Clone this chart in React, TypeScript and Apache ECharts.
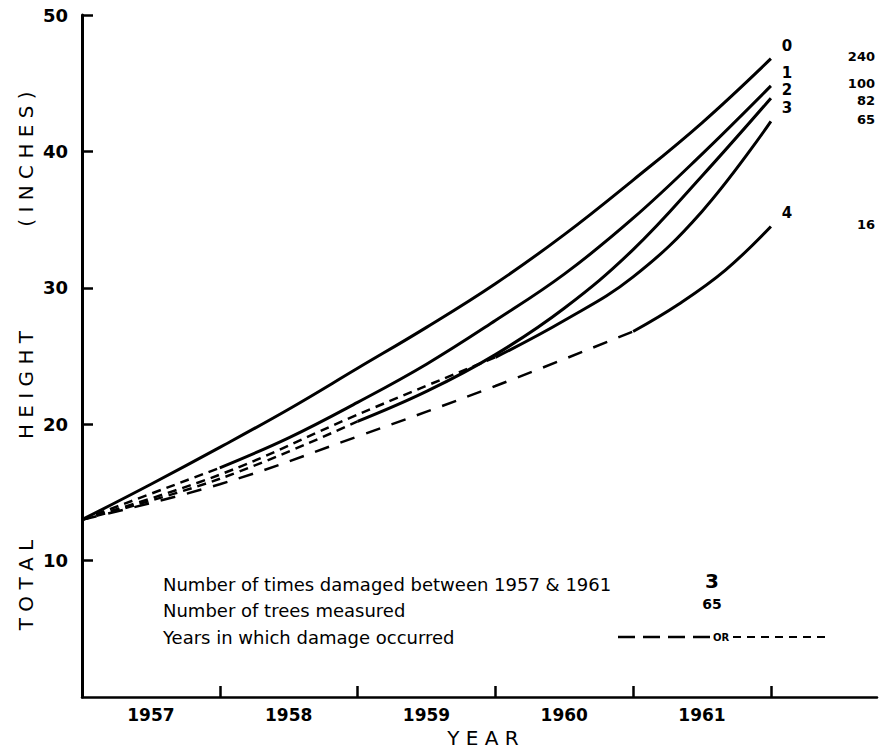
import React, { useEffect, useRef } from "react";
import * as echarts from "echarts";

// ---- axes ----
const yearTicks = [1958, 1959, 1960, 1961, 1962];
const yearLabelPositions = [1957.5, 1958.5, 1959.5, 1960.5, 1961.5];
const yearLabels = ["1957", "1958", "1959", "1960", "1961"];
const heightTicks = [10, 20, 30, 40, 50];

// ---- curve annotations ----
const damageCounts = [0, 1, 2, 3, 4];
const treeCounts = [240, 100, 82, 65, 16];

// ---- curve 0 (never damaged) ----
const solidYears0 = [1957, 1957.5, 1958, 1958.5, 1959, 1959.5, 1960, 1960.5, 1961, 1961.5, 1962];
const solidHeights0 = [13.0, 15.6, 18.3, 21.1, 24.1, 27.1, 30.3, 33.9, 37.9, 42.1, 46.8];

// ---- curve 1 ----
const dashYears1 = [1957, 1958];
const dashHeights1 = [13.0, 16.8];
const solidYears1 = [1958, 1958.5, 1959, 1959.5, 1960, 1960.5, 1961, 1961.5, 1962];
const solidHeights1 = [16.8, 19.0, 21.6, 24.4, 27.6, 31.0, 35.1, 39.8, 44.8];

// ---- curve 2 ----
const dashYears2 = [1957, 1958, 1959];
const dashHeights2 = [13.0, 16.0, 20.2];
const solidYears2 = [1959, 1959.5, 1960, 1960.5, 1961, 1961.5, 1962];
const solidHeights2 = [20.2, 22.4, 25.1, 28.5, 32.8, 38.2, 43.9];

// ---- curve 3 ----
const dashYears3 = [1957, 1958, 1959, 1960];
const dashHeights3 = [13.0, 16.3, 20.7, 24.9];
const solidYears3 = [1960, 1960.5, 1961, 1961.5, 1962];
const solidHeights3 = [24.9, 27.6, 30.8, 35.6, 42.2];

// ---- curve 4 ----
const dashYears4 = [1957, 1958, 1959, 1960, 1961];
const dashHeights4 = [13.0, 15.6, 19.1, 22.8, 26.8];
const solidYears4 = [1961, 1961.33, 1961.67, 1962];
const solidHeights4 = [26.8, 28.8, 31.3, 34.5];

const FONT = "DejaVu Sans";

const zip = (xs: number[], ys: number[]) => xs.map((x, i) => [x, ys[i]]);

const solidCurves = [
  zip(solidYears0, solidHeights0),
  zip(solidYears1, solidHeights1),
  zip(solidYears2, solidHeights2),
  zip(solidYears3, solidHeights3),
  zip(solidYears4, solidHeights4),
];
const dashCurves = [
  null,
  zip(dashYears1, dashHeights1),
  zip(dashYears2, dashHeights2),
  zip(dashYears3, dashHeights3),
  zip(dashYears4, dashHeights4),
];

export default function App() {
  const ref = useRef<HTMLDivElement>(null);

  useEffect(() => {
    if (!ref.current) return;
    const chart = echarts.init(ref.current, undefined, { renderer: "svg" });

    const series: any[] = [];
    solidCurves.forEach((data, i) => {
      series.push({
        type: "line",
        name: "damaged " + damageCounts[i] + " times",
        data,
        smooth: 0.4,
        showSymbol: false,
        symbol: "none",
        lineStyle: { color: "#000", width: 3, type: "solid" },
        z: 3,
      });
    });
    dashCurves.forEach((data, i) => {
      if (!data) return;
      series.push({
        type: "line",
        name: "damage years " + damageCounts[i],
        data,
        smooth: 0.4,
        showSymbol: false,
        symbol: "none",
        lineStyle: {
          color: "#000",
          width: 2.5,
          type: i === 4 ? [15, 12] : [9, 6],
        },
        z: 2,
      });
    });

    chart.setOption({
      animation: false,
      backgroundColor: "#fff",
      grid: { left: 82, right: 12, top: 15, bottom: 52, containLabel: false },
      xAxis: {
        type: "value",
        min: 1957,
        max: 1962.77,
        axisLine: { show: true, onZero: false, lineStyle: { color: "#000", width: 2.5 } },
        axisTick: {
          show: true,
          inside: true,
          length: 11,
          customValues: yearTicks,
          lineStyle: { color: "#000", width: 2.5 },
        },
        axisLabel: {
          show: true,
          customValues: yearLabelPositions,
          formatter: (v: number) => {
            const i = yearLabelPositions.findIndex((p) => Math.abs(p - v) < 1e-6);
            return i >= 0 ? yearLabels[i] : "";
          },
          color: "#000",
          fontFamily: FONT,
          fontWeight: "bold",
          fontSize: 17,
          margin: 9,
        },
        splitLine: { show: false },
      },
      yAxis: {
        type: "value",
        min: 0,
        max: 50,
        axisLine: { show: true, onZero: false, lineStyle: { color: "#000", width: 3 } },
        axisTick: {
          show: true,
          inside: true,
          length: 11,
          customValues: heightTicks,
          lineStyle: { color: "#000", width: 2.5 },
        },
        axisLabel: {
          show: true,
          customValues: heightTicks,
          color: "#000",
          fontFamily: FONT,
          fontWeight: "bold",
          fontSize: 18,
          margin: 14,
        },
        splitLine: { show: false },
      },
      series,
    });

    const graphics: any[] = [];
    const rotText = (text: string, x: number, y: number) => ({
      type: "text",
      x,
      y,
      rotation: Math.PI / 2,
      style: {
        text,
        fill: "#000",
        font: `20px "${FONT}"`,
        align: "center",
        verticalAlign: "middle",
      },
    });
    graphics.push(rotText("T O T A L", 26, 585));
    graphics.push(rotText("H E I G H T", 26, 385));
    graphics.push(rotText("( I N C H E S )", 26, 159));
    graphics.push({
      type: "text",
      x: 483,
      y: 738,
      style: {
        text: "Y E A R",
        fill: "#000",
        font: `20px "${FONT}"`,
        align: "center",
        verticalAlign: "middle",
      },
    });

    // annotation block
    const rows = [
      "Number of times damaged between 1957 & 1961",
      "Number of trees measured",
      "Years in which damage occurred",
    ];
    const rowY = [584, 610, 637];
    rows.forEach((t, i) => {
      graphics.push({
        type: "text",
        x: 163,
        y: rowY[i],
        style: {
          text: t,
          fill: "#000",
          font: `18px "${FONT}"`,
          align: "left",
          verticalAlign: "middle",
        },
      });
    });
    graphics.push({
      type: "text",
      x: 712,
      y: 581,
      style: {
        text: String(damageCounts[3]),
        fill: "#000",
        font: `bold 20px "${FONT}"`,
        align: "center",
        verticalAlign: "middle",
      },
    });
    graphics.push({
      type: "text",
      x: 712,
      y: 604,
      style: {
        text: String(treeCounts[3]),
        fill: "#000",
        font: `bold 14px "${FONT}"`,
        align: "center",
        verticalAlign: "middle",
      },
    });
    graphics.push({
      type: "line",
      shape: { x1: 618, y1: 637, x2: 711, y2: 637 },
      style: { stroke: "#000", lineWidth: 2.5, lineDash: [17, 8] },
    });
    graphics.push({
      type: "text",
      x: 721,
      y: 637,
      style: {
        text: "OR",
        fill: "#000",
        font: `bold 10px "${FONT}"`,
        align: "center",
        verticalAlign: "middle",
      },
    });
    graphics.push({
      type: "line",
      shape: { x1: 733, y1: 637, x2: 830, y2: 637 },
      style: { stroke: "#000", lineWidth: 2, lineDash: [8, 6] },
    });

    // end labels placed from the data through the chart's scales
    let prevLabelY = -Infinity;
    let prevCountY = -Infinity;
    solidCurves.forEach((data, i) => {
      const last = data[data.length - 1];
      const p = chart.convertToPixel({ gridIndex: 0 }, last) as number[];
      if (!p) return;
      const ly = Math.max(p[1] - 13, prevLabelY + 17);
      prevLabelY = ly;
      const cy = Math.max(p[1] - 2, prevCountY + 17);
      prevCountY = cy;
      graphics.push({
        type: "text",
        x: p[0] + 16,
        y: ly,
        style: {
          text: String(damageCounts[i]),
          fill: "#000",
          font: `bold 15px "${FONT}"`,
          align: "center",
          verticalAlign: "middle",
        },
      });
      graphics.push({
        type: "text",
        x: 875,
        y: cy,
        style: {
          text: String(treeCounts[i]),
          fill: "#000",
          font: `bold 13px "${FONT}"`,
          align: "right",
          verticalAlign: "middle",
        },
      });
    });

    chart.setOption({ graphic: graphics });

    return () => chart.dispose();
  }, []);

  return (
    <div
      ref={ref}
      style={{ position: "fixed", left: 0, top: 0, width: 889, height: 749, background: "#fff" }}
    />
  );
}
